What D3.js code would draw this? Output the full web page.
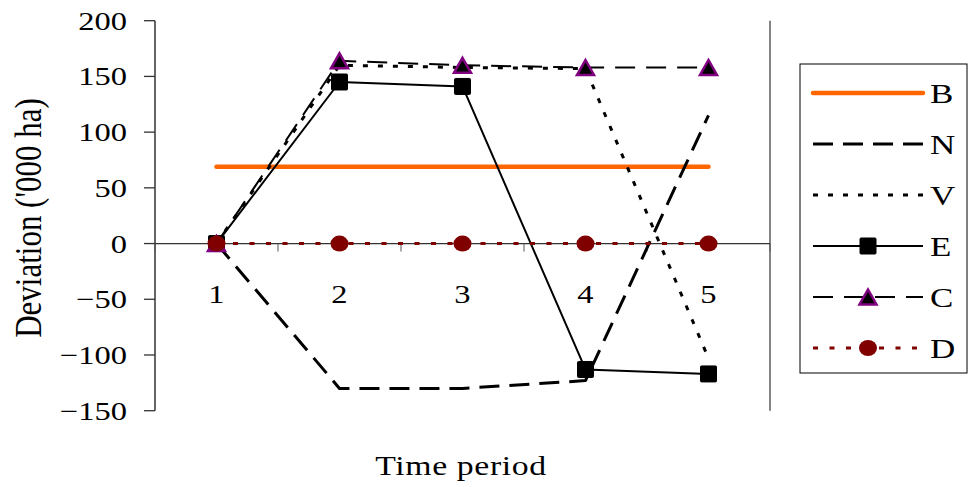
<!DOCTYPE html>
<html>
<head>
<meta charset="utf-8">
<script src="https://cdnjs.cloudflare.com/ajax/libs/d3/7.8.5/d3.min.js"></script>
<style>
  html, body { margin: 0; padding: 0; background: #fff; }
  svg { display: block; }
  text { font-family: "Liberation Serif", "Times New Roman", serif; fill: #000; }
</style>
</head>
<body>
<svg id="chart" width="972" height="487"></svg>
<script>
// ---- data ----
const categories = ["1", "2", "3", "4", "5"];
const seriesNames = ["B", "N", "V", "E", "C", "D"];
const valuesB = [69, 69, 69, 69, 69];
const valuesN = [0, -130, -130, -123, 115];
const valuesV = [0, 160, 158, 157, -103];
const valuesE = [0, 145, 141, -113, -117];
const valuesC = [0, 164, 160, 158, 158];
const valuesD = [0, 0, 0, 0, 0];
const yTicks = [200, 150, 100, 50, 0, -50, -100, -150];
const yTitle = "Deviation ('000 ha)";
const xTitle = "Time period";

// ---- styles ----
const styles = {
  B: { color: "#FF6600", width: 4.5, dash: null, cap: "round", marker: null },
  N: { color: "#000", width: 3, dash: "20,10", cap: "butt", marker: null },
  V: { color: "#000", width: 3, dash: "5,10", cap: "butt", marker: null },
  E: { color: "#000", width: 2, dash: null, cap: "butt", marker: "square" },
  C: { color: "#000", width: 2, dash: "20,11", cap: "butt", marker: "triangle" },
  D: { color: "#800000", width: 3, dash: "5,11.5", cap: "butt", marker: "circle" }
};
const dataMap = { B: valuesB, N: valuesN, V: valuesV, E: valuesE, C: valuesC, D: valuesD };

const svg = d3.select("#chart");
const plot = { left: 155, right: 770, top: 20.7, bottom: 410.7 };
const SX = 1.25; // horizontal stretch of text in reference

const x = d3.scaleBand().domain(categories).range([plot.left, plot.right]).padding(0);
const y = d3.scaleLinear().domain([-150, 200]).range([plot.bottom, plot.top]);
const cx = c => x(c) + x.bandwidth() / 2;

function stretchedText(g, txt, px, py, size, anchor, baseline) {
  return g.append("text")
    .attr("transform", `translate(${px},${py}) scale(${SX},1)`)
    .attr("text-anchor", anchor)
    .attr("dominant-baseline", baseline || "auto")
    .style("font-size", size + "px")
    .text(txt);
}

// right plot border line
svg.append("line")
  .attr("x1", plot.right).attr("x2", plot.right)
  .attr("y1", plot.top).attr("y2", plot.bottom)
  .attr("stroke", "#333").attr("stroke-width", 1.2);

// y axis
const yAxisG = svg.append("g");
yAxisG.append("line")
  .attr("x1", plot.left).attr("x2", plot.left)
  .attr("y1", plot.top).attr("y2", plot.bottom)
  .attr("stroke", "#333").attr("stroke-width", 1.5);
yTicks.forEach(t => {
  yAxisG.append("line")
    .attr("x1", plot.left - 11).attr("x2", plot.left)
    .attr("y1", y(t)).attr("y2", y(t))
    .attr("stroke", "#333").attr("stroke-width", 1.3);
  stretchedText(yAxisG, d3.format("d")(t), 127, y(t) + 9, 26, "end");
});

// x axis at zero
const xAxisG = svg.append("g");
xAxisG.append("line")
  .attr("x1", plot.left).attr("x2", plot.right)
  .attr("y1", y(0)).attr("y2", y(0))
  .attr("stroke", "#333").attr("stroke-width", 1.3);
const boundaries = categories.map(c => x(c)).concat([plot.right]);
boundaries.forEach(b => {
  xAxisG.append("line")
    .attr("x1", b).attr("x2", b)
    .attr("y1", y(0)).attr("y2", y(0) + 8)
    .attr("stroke", "#555").attr("stroke-width", 1);
});
categories.forEach(c => {
  stretchedText(xAxisG, c, cx(c), 303, 26, "middle");
});

// titles
svg.append("text")
  .attr("transform", `translate(41,218) scale(${SX},1) rotate(-90)`)
  .attr("text-anchor", "middle")
  .style("font-size", "31px")
  .text(yTitle);
stretchedText(svg, xTitle, 461, 475, 27, "middle").style("letter-spacing", "0.5px");

// lines
const lineGen = d3.line().x((d, i) => cx(categories[i])).y(d => y(d));
const linesG = svg.append("g");
seriesNames.forEach(name => {
  const st = styles[name];
  linesG.append("path")
    .datum(dataMap[name])
    .attr("d", lineGen)
    .attr("fill", "none")
    .attr("stroke", st.color)
    .attr("stroke-width", st.width)
    .attr("stroke-linecap", st.cap)
    .attr("stroke-linejoin", "round")
    .attr("stroke-dasharray", st.dash);
});

// markers
function drawMarker(g, type, px, py) {
  if (type === "square") {
    g.append("rect").attr("x", px - 8).attr("y", py - 8)
      .attr("width", 16).attr("height", 16).attr("rx", 1)
      .attr("fill", "#000").attr("stroke", "#000").attr("stroke-width", 1);
  } else if (type === "triangle") {
    const h = 15, w = 17;
    g.append("path")
      .attr("d", `M${px},${py - h / 2} L${px + w / 2},${py + h / 2} L${px - w / 2},${py + h / 2} Z`)
      .attr("fill", "#000").attr("stroke", "#800080").attr("stroke-width", 2.5)
      .attr("stroke-linejoin", "miter");
  } else if (type === "circle") {
    g.append("ellipse").attr("cx", px).attr("cy", py)
      .attr("rx", 9).attr("ry", 8)
      .attr("fill", "#800000");
  }
}
const markersG = svg.append("g");
seriesNames.forEach(name => {
  const st = styles[name];
  if (!st.marker) return;
  dataMap[name].forEach((v, i) => drawMarker(markersG, st.marker, cx(categories[i]), y(v)));
});

// legend
const legend = { x: 800, y: 64, w: 167, h: 309 };
const legG = svg.append("g");
legG.append("rect")
  .attr("x", legend.x).attr("y", legend.y)
  .attr("width", legend.w).attr("height", legend.h)
  .attr("fill", "#fff").attr("stroke", "#000").attr("stroke-width", 1);
const legY = d3.scalePoint().domain(seriesNames).range([93, 348]);
seriesNames.forEach(name => {
  const st = styles[name];
  const ly = legY(name);
  legG.append("line")
    .attr("x1", 813).attr("x2", 923)
    .attr("y1", ly).attr("y2", ly)
    .attr("stroke", st.color)
    .attr("stroke-width", st.width)
    .attr("stroke-linecap", st.cap)
    .attr("stroke-dasharray", st.dash);
  if (st.marker) drawMarker(legG, st.marker, 868, ly);
  stretchedText(legG, name, 930, ly + 10, 28, "start");
});
</script>
</body>
</html>
